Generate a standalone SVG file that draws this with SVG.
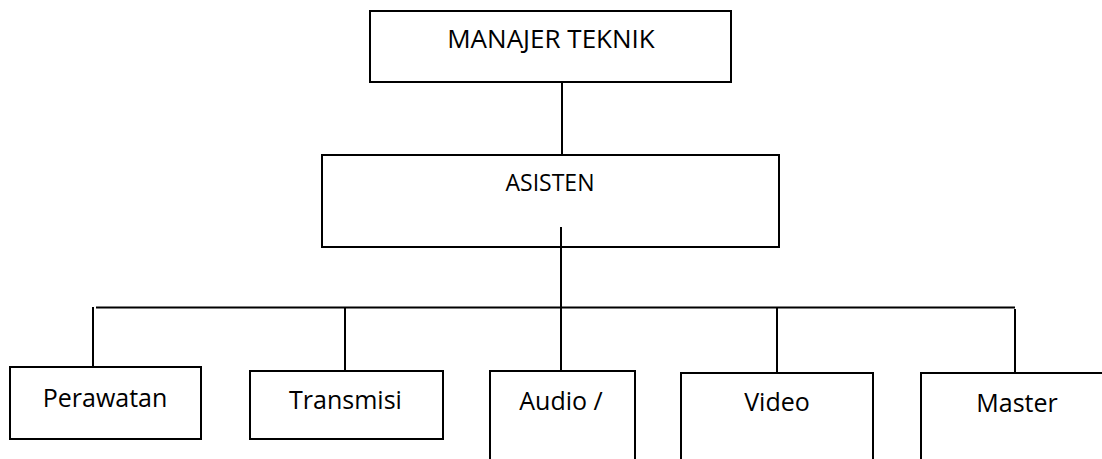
<svg xmlns="http://www.w3.org/2000/svg" width="1102" height="459" viewBox="0 0 1102 459">
<style>
.box{fill:#fff;stroke:#000;stroke-width:2}
.ln{stroke:#000;stroke-width:2;fill:none}
.t{font-family:"Open Sans","Liberation Sans",sans-serif;font-size:25px;fill:#000;text-anchor:middle}
</style>
<rect width="1102" height="459" fill="#fff"/>
<g id="connectors">
<line class="ln" x1="562" y1="82" x2="562" y2="155"/>
<line class="ln" x1="561" y1="227" x2="561" y2="371"/>
<line class="ln" x1="96" y1="307.5" x2="1015" y2="307.5"/>
<line class="ln" x1="93" y1="307" x2="93" y2="371"/>
<line class="ln" x1="345" y1="307" x2="345" y2="371"/>
<line class="ln" x1="777" y1="307" x2="777" y2="373"/>
<line class="ln" x1="1015" y1="309" x2="1015" y2="373"/>
</g>
<g id="manajer">
<rect class="box" x="370" y="11" width="361" height="71"/>
<text class="t" x="551" y="48" style="font-size:26px">MANAJER TEKNIK</text>
</g>
<g id="asisten">
<rect class="box" x="322" y="155" width="457" height="92"/>
<line class="ln" x1="561" y1="227" x2="561" y2="247"/>
<text class="t" x="550" y="190.5" style="font-size:23px">ASISTEN</text>
</g>
<g id="perawatan">
<rect class="box" x="10" y="367" width="191" height="72"/>
<text class="t" x="105" y="406.5">Perawatan</text>
</g>
<g id="transmisi">
<rect class="box" x="250" y="371" width="193" height="68"/>
<text class="t" x="345.5" y="409">Transmisi</text>
</g>
<g id="audio">
<rect class="box" x="490" y="371" width="145" height="110"/>
<text class="t" x="561" y="410">Audio /</text>
</g>
<g id="video">
<rect class="box" x="681" y="373" width="192" height="110"/>
<text class="t" x="777" y="411">Video</text>
</g>
<g id="master">
<rect class="box" x="921" y="373" width="200" height="110"/>
<text class="t" x="1017" y="411.5">Master</text>
</g>
</svg>
